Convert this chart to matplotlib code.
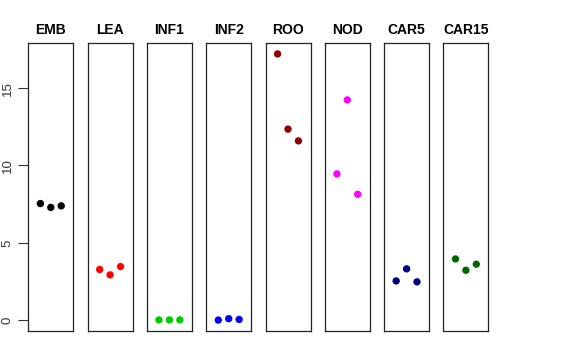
import matplotlib
matplotlib.use("Agg")
import matplotlib.pyplot as plt

plt.rcParams['font.family'] = ['Liberation Sans', 'DejaVu Sans']

# tissue labels and replicate values
tissues = ["EMB", "LEA", "INF1", "INF2", "ROO", "NOD", "CAR5", "CAR15"]
colors = ["#000000", "#FF0000", "#00CD00", "#0000FF", "#8B0000", "#FF00FF", "#000080", "#006400"]
emb = [7.54, 7.29, 7.39]
lea = [3.28, 2.93, 3.47]
inf1 = [0.02, 0.02, 0.02]
inf2 = [0.01, 0.10, 0.05]
roo = [17.21, 12.35, 11.59]
nod = [9.46, 14.24, 8.14]
car5 = [2.54, 3.32, 2.48]
car15 = [3.96, 3.23, 3.62]
series = [emb, lea, inf1, inf2, roo, nod, car5, car15]
yticks = [0, 5, 10, 15]

W, H = 576, 360
fig = plt.figure(figsize=(W / 100, H / 100), dpi=100)

# shared y range like R's default 4% padding
allv = [v for s in series for v in s]
lo, hi = min(allv), max(allv)
pad = (hi - lo) * 0.04
ylim = (lo - pad, hi + pad)

left0 = 28.3
pw = 45.0
step = 59.3
top = 43.3
bot = 330.7

for i, (name, vals, col) in enumerate(zip(tissues, series, colors)):
    x0 = left0 + i * step
    ax = fig.add_axes([x0 / W, 1 - bot / H, pw / W, (bot - top) / H])
    xs = list(range(1, len(vals) + 1))
    ax.scatter(xs, vals, s=28, color=col, edgecolors="none", zorder=3)
    ax.set_xlim(-0.16, 4.16)
    ax.set_ylim(*ylim)
    ax.set_xticks([])
    for sp in ax.spines.values():
        sp.set_linewidth(0.9)
        sp.set_color("#222222")
    ax.set_title(name, fontsize=10, fontweight="bold", pad=6.5)
    if i == 0:
        ax.set_yticks(yticks)
        ax.set_yticklabels([str(t) for t in yticks], rotation=90, va="center", fontsize=9.5)
        ax.tick_params(axis="y", length=7, width=0.8, pad=3.5, colors="#333333")
    else:
        ax.set_yticks([])

fig.savefig("out.png", dpi=100)
